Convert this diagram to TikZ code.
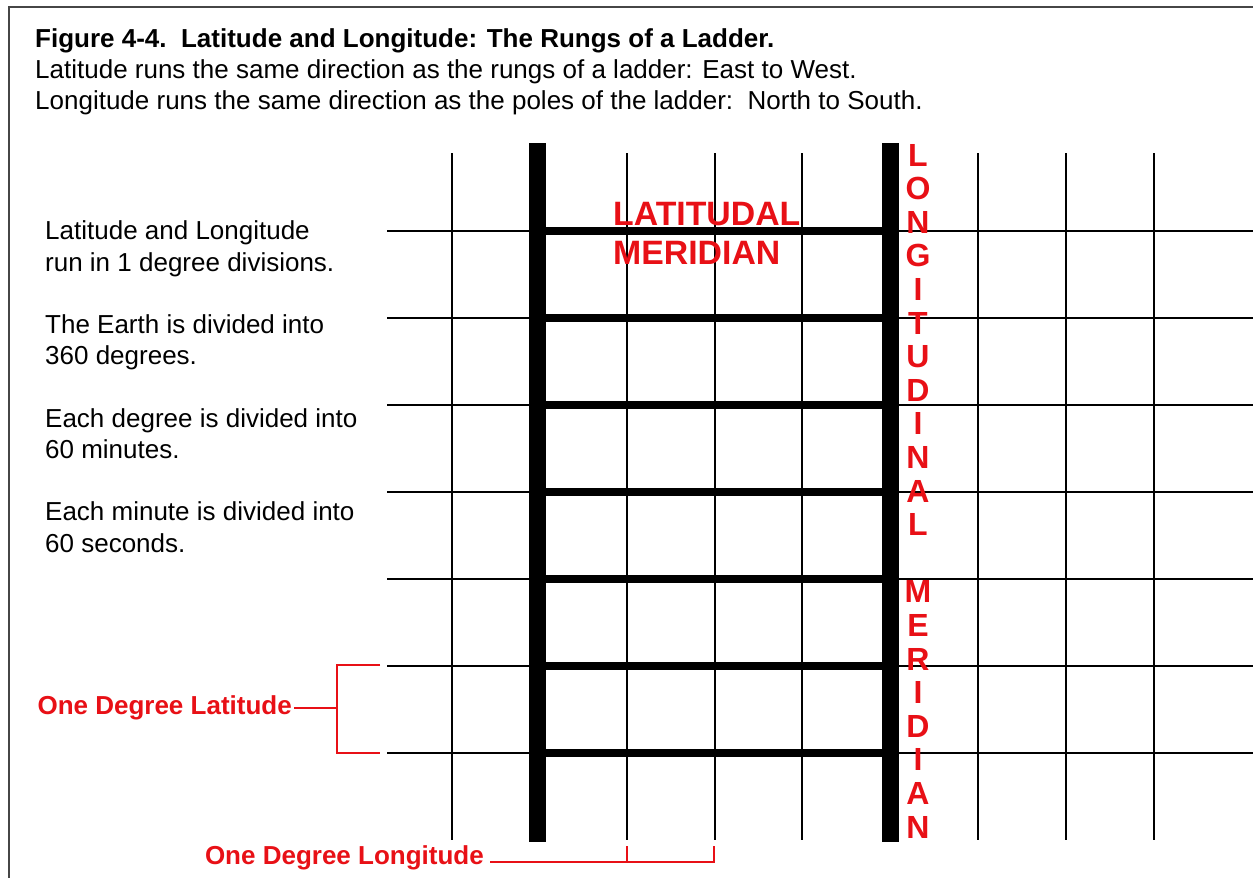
\documentclass[tikz,border=0pt]{standalone}
\usepackage{fontspec}
\setmainfont{Liberation Sans}
\definecolor{lblred}{RGB}{232,16,22}
\definecolor{framegray}{RGB}{70,70,70}
\begin{document}
\begin{tikzpicture}[x=1pt,y=-1pt,
  gridline/.style={line width=2pt,black},
  rungline/.style={line width=8pt,black},
  poleline/.style={line width=17pt,black},
  redline/.style={lblred,line width=1.3pt},
  bodytext/.style={font=\fontsize{26}{30}\selectfont,anchor=base west,inner sep=0pt},
  titletext/.style={font=\bfseries\fontsize{26}{30}\selectfont,anchor=base west,inner sep=0pt},
  biglabel/.style={font=\bfseries\fontsize{33.8}{36}\selectfont,text=lblred,anchor=base west,inner sep=0pt},
  vletter/.style={font=\bfseries\fontsize{32}{34}\selectfont,text=lblred,anchor=base,inner sep=0pt},
  redlabel/.style={font=\bfseries\fontsize{26}{30}\selectfont,text=lblred,anchor=east,inner sep=0pt}]
\useasboundingbox (0,0) rectangle (1253,878);
\fill[white] (0,0) rectangle (1253,878);
% frame
\draw[framegray,line width=1.5pt] (9,878) -- (9,7) -- (1253,7);
% title and captions
\node[titletext] (title) at (35,47) {Figure 4-4.\ \ Latitude and Longitude: The Rungs of a Ladder.};
\node[bodytext] (sub1) at (35,78) {Latitude runs the same direction as the rungs of a ladder: East to West.};
\node[bodytext] (sub2) at (35,109) {Longitude runs the same direction as the poles of the ladder:\ \ North to South.};
% left notes
\node[bodytext] (n1) at (45,239) {Latitude and Longitude};
\node[bodytext] (n2) at (45,271) {run in 1 degree divisions.};
\node[bodytext] (n3) at (45,333) {The Earth is divided into};
\node[bodytext] (n4) at (45,364) {360 degrees.};
\node[bodytext] (n5) at (45,427) {Each degree is divided into};
\node[bodytext] (n6) at (45,458) {60 minutes.};
\node[bodytext] (n7) at (45,520) {Each minute is divided into};
\node[bodytext] (n8) at (45,552) {60 seconds.};
% grid
\foreach \y in {231,318,405,492,579,666,753}
  \draw[gridline] (387,\y) -- (1253,\y);
\foreach \x in {452,627,715,802,978,1066,1154}
  \draw[gridline] (\x,153) -- (\x,840);
% ladder
\foreach \y in {231,318,405,492,579,666,753}
  \draw[rungline] (537,\y) -- (890,\y);
\draw[poleline] (537,143) -- (537,842);
\draw[poleline] (890,143) -- (890,842);
% labels in the ladder
\node[biglabel] (latlbl) at (613,225) {LATITUDAL};
\node[biglabel] (merlbl) at (613,264) {MERIDIAN};
% vertical label
\foreach \c [count=\i from 0] in {L,O,N,G,I,T,U,D,I,N,A,L,{},M,E,R,I,D,I,A,N}
  \node[vletter] (v\i) at (918,{166+33.6*\i}) {\c};
% one degree latitude bracket
\node[redlabel] (ondlat) at (292,708) {One Degree Latitude};
\coordinate (latTop) at (380,665);
\coordinate (latBot) at (380,753);
\coordinate (latMid) at (337,708);
\draw[redline] (latTop) -| (latMid) |- (latBot);
\draw[redline] ([xshift=2pt]ondlat.east) -- (latMid);
% one degree longitude bracket
\node[redlabel] (ondlon) at (484,858) {One Degree Longitude};
\coordinate (lonTickA) at (627,846);
\coordinate (lonTickB) at (714,846);
\coordinate (lonEnd) at (714,862);
\draw[redline] ([xshift=6pt]ondlon.east |- lonEnd) -- (lonEnd) -- (lonTickB);
\draw[redline] (lonTickA) -- (lonTickA |- lonEnd);
\end{tikzpicture}
\end{document}
